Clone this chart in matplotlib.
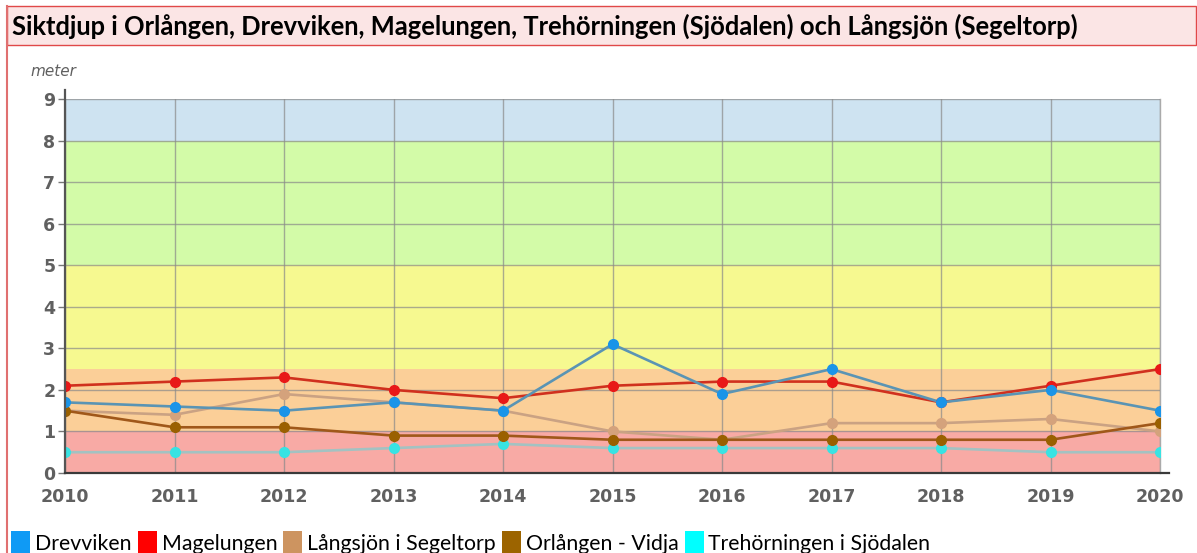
import numpy as np
import matplotlib.pyplot as plt
from matplotlib.patches import Rectangle

years = [2010, 2011, 2012, 2013, 2014, 2015, 2016, 2017, 2018, 2019, 2020]
drevviken = [1.7, 1.6, 1.5, 1.7, 1.5, 3.1, 1.9, 2.5, 1.7, 2.0, 1.5]
magelungen = [2.1, 2.2, 2.3, 2.0, 1.8, 2.1, 2.2, 2.2, 1.7, 2.1, 2.5]
langsjon = [1.5, 1.4, 1.9, 1.7, 1.5, 1.0, 0.8, 1.2, 1.2, 1.3, 1.0]
orlangen = [1.5, 1.1, 1.1, 0.9, 0.9, 0.8, 0.8, 0.8, 0.8, 0.8, 1.2]
trehorningen = [0.5, 0.5, 0.5, 0.6, 0.7, 0.6, 0.6, 0.6, 0.6, 0.5, 0.5]

# classes for siktdjup (lower, upper, colour)
bands = [(0, 1, '#f8aaa5'), (1, 2.5, '#fbcf98'), (2.5, 5, '#f6f990'),
         (5, 8, '#d3fba8'), (8, 9, '#cee3f1')]

# name, values, line colour, marker colour, legend colour
series = [
    ('Trehörningen i Sjödalen', trehorningen, '#a3c2c2', '#38e3e3', '#00ffff'),
    ('Långsjön i Segeltorp', langsjon, '#caa283', '#d4a27c', '#cd9460'),
    ('Orlången - Vidja', orlangen, '#a0581a', '#9a6000', '#9c6400'),
    ('Magelungen', magelungen, '#d0301e', '#e81818', '#ff0000'),
    ('Drevviken', drevviken, '#5a94b4', '#1a94e8', '#0f9af5'),
]
legend_order = ['Drevviken', 'Magelungen', 'Långsjön i Segeltorp',
                'Orlången - Vidja', 'Trehörningen i Sjödalen']

W, H = 1197, 553
fig = plt.figure(figsize=(W / 100, H / 100), dpi=100)

# title bar
fig.patches.append(Rectangle((7 / W, 1 - 45 / H), 1 - 8 / W, 39 / H,
                             transform=fig.transFigure, facecolor='#fbe5e5',
                             edgecolor='#e04848', linewidth=1.0))
# left frame line
fig.add_artist(plt.Line2D([7 / W, 7 / W], [0, 1 - 6 / H],
                          transform=fig.transFigure, color='#e07070', lw=1.5))
title = fig.text(12 / W, 1 - 26 / H,
                 'Siktdjup i Orlången, Drevviken, Magelungen, Trehörningen (Sjödalen) och Långsjön (Segeltorp)',
                 fontsize=15, fontweight='bold', family=['Lato', 'DejaVu Sans'],
                 va='center', ha='left', color='black')

ax = fig.add_axes([65 / W, 80 / H, (1160 - 65) / W, (473 - 99) / H])
for lo, hi, c in bands:
    ax.axhspan(lo, hi, color=c, zorder=0, lw=0)

for name, vals, lc, mc, _ in series:
    ax.plot(years, vals, color=lc, lw=1.9, zorder=3)
    ax.plot(years, vals, ls='none', marker='o', ms=7, color=mc, zorder=4)

ax.set_xlim(2010, 2020)
ax.set_ylim(0, 9)
ax.set_xticks(years)
ax.set_yticks(range(0, 10))
ax.grid(True, color='#8a8a8a', lw=1.0, alpha=0.7, zorder=1)
ax.set_axisbelow(False)
for s in ['top', 'right', 'left', 'bottom']:
    ax.spines[s].set_visible(False)
ax.tick_params(axis='x', length=0, pad=11, labelsize=12.5, labelcolor='#606060')
ax.tick_params(axis='y', length=5, width=1, color='#777777', pad=2,
               labelsize=12.5, labelcolor='#606060')
for lab in ax.get_xticklabels() + ax.get_yticklabels():
    lab.set_fontweight('bold')

# axis lines, left one overshoots the top, bottom one overshoots the right
ax.plot([0, 0], [0, 1.025], transform=ax.transAxes, color='#555555',
        lw=1.6, clip_on=False, zorder=6)
ax.plot([0, 1.008], [0, 0], transform=ax.transAxes, color='#3a3a3a',
        lw=1.6, clip_on=False, zorder=6)
ax.plot([1, 1], [0, 1], transform=ax.transAxes, color='#aaaaaa',
        lw=1.0, clip_on=False, zorder=2)

fig.text(30 / W, 1 - 72 / H, 'meter', fontsize=11, style='italic',
         color='#606060', va='center', ha='left')

fig.canvas.draw()
r = fig.canvas.get_renderer()

# stretch the title to the width it has in the original
tw = title.get_window_extent(renderer=r).width
title.set_fontsize(15 * 1073 / tw)

# legend row at the bottom
x = 11
colours = {s[0]: s[4] for s in series}
for name in legend_order:
    fig.patches.append(Rectangle((x / W, 0), 19 / W, 22 / H,
                                 transform=fig.transFigure,
                                 facecolor=colours[name], edgecolor='none'))
    t = fig.text((x + 24) / W, 1 - 550 / H, name, fontsize=15.3,
                 family=['Lato', 'DejaVu Sans'], va='baseline', ha='left',
                 color='black')
    bb = t.get_window_extent(renderer=r)
    x = bb.x1 + 6

fig.savefig('out.png', dpi=100)
